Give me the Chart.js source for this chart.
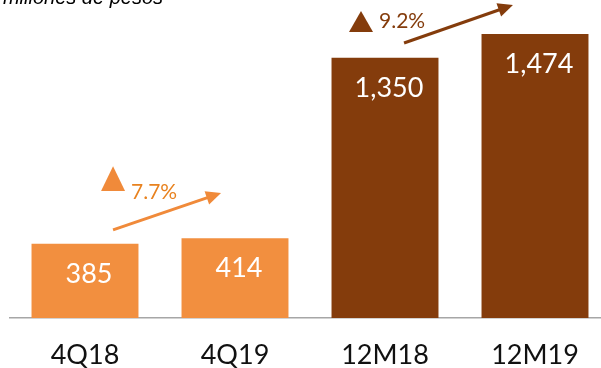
<!DOCTYPE html>
<html>
<head>
<meta charset="utf-8">
<script src="https://cdn.jsdelivr.net/npm/chart.js@4.4.1/dist/chart.umd.min.js"></script>
<style>
    html, body { margin: 0; padding: 0; background: #fff; overflow: hidden; }
    #wrap { position: relative; width: 610px; height: 393px; }
</style>
</head>
<body>
<div id="wrap"><canvas id="ventasChart"></canvas></div>
<script>
// Ventas en millones de pesos
const periodos = ['4Q18', '4Q19', '12M18', '12M19'];
const ventas = [385, 414, 1350, 1474];
const etiquetasVentas = ['385', '414', '1,350', '1,474'];
const crecimientos = ['7.7%', '9.2%'];

const NARANJA = '#F28F3F';
const CAFE = '#843C0C';
const coloresBarras = [NARANJA, NARANJA, CAFE, CAFE];

// Flechas de crecimiento, en unidades de los ejes (indice de categoria, valor)
const anotaciones = [
    { texto: crecimientos[0], color: '#F08A3A', colorTexto: '#E8821F',
      desde: [0.187, 457], hasta: [0.907, 649],
      triangulo: [0.107, 0.267, 659, 788], textoEn: [0.307, 617] },
    { texto: crecimientos[1], color: CAFE, colorTexto: CAFE,
      desde: [2.127, 1427], hasta: [2.853, 1624],
      triangulo: [1.76, 1.92, 1484, 1593], textoEn: [1.96, 1505] }
];

const pluginTextos = {
    id: 'textos',
    afterDatasetsDraw(chart) {
        const ctx = chart.ctx;
        const x = chart.scales.x;
        const y = chart.scales.y;

        // valores dentro de las barras
        ctx.save();
        ctx.fillStyle = '#fff';
        ctx.font = '27px Lato';
        ctx.textAlign = 'center';
        ctx.textBaseline = 'middle';
        chart.getDatasetMeta(0).data.forEach((bar, i) => {
            ctx.fillText(etiquetasVentas[i], bar.x + 4, bar.y + 30);
        });
        ctx.restore();

        // flechas y porcentajes
        anotaciones.forEach(a => {
            const x1 = x.getPixelForValue(a.desde[0]);
            const y1 = y.getPixelForValue(a.desde[1]);
            const x2 = x.getPixelForValue(a.hasta[0]);
            const y2 = y.getPixelForValue(a.hasta[1]);
            const ang = Math.atan2(y2 - y1, x2 - x1);
            const largo = 15, ancho = 7;

            ctx.save();
            ctx.strokeStyle = a.color;
            ctx.fillStyle = a.color;
            ctx.lineWidth = 3;
            ctx.beginPath();
            ctx.moveTo(x1, y1);
            ctx.lineTo(x2 - Math.cos(ang) * largo * 0.8, y2 - Math.sin(ang) * largo * 0.8);
            ctx.stroke();

            ctx.beginPath();
            ctx.moveTo(x2, y2);
            ctx.lineTo(x2 - Math.cos(ang) * largo + Math.sin(ang) * ancho,
                       y2 - Math.sin(ang) * largo - Math.cos(ang) * ancho);
            ctx.lineTo(x2 - Math.cos(ang) * largo - Math.sin(ang) * ancho,
                       y2 - Math.sin(ang) * largo + Math.cos(ang) * ancho);
            ctx.closePath();
            ctx.fill();

            // triangulo
            const tl = x.getPixelForValue(a.triangulo[0]);
            const tr = x.getPixelForValue(a.triangulo[1]);
            const tb = y.getPixelForValue(a.triangulo[2]);
            const tt = y.getPixelForValue(a.triangulo[3]);
            ctx.beginPath();
            ctx.moveTo((tl + tr) / 2, tt);
            ctx.lineTo(tr, tb);
            ctx.lineTo(tl, tb);
            ctx.closePath();
            ctx.fill();

            ctx.fillStyle = a.colorTexto;
            ctx.font = '21px Lato';
            ctx.textAlign = 'left';
            ctx.textBaseline = 'alphabetic';
            ctx.fillText(a.texto, x.getPixelForValue(a.textoEn[0]), y.getPixelForValue(a.textoEn[1]));
            ctx.restore();
        });

        // subtitulo, cortado por el borde superior
        ctx.save();
        ctx.fillStyle = '#000';
        ctx.font = 'italic 20px "Liberation Sans"';
        ctx.textAlign = 'right';
        ctx.textBaseline = 'alphabetic';
        ctx.fillText('En millones de pesos', 163, 4);
        ctx.restore();
    }
};

new Chart(document.getElementById('ventasChart'), {
    type: 'bar',
    data: {
        labels: periodos,
        datasets: [{
            data: ventas,
            backgroundColor: coloresBarras,
            borderWidth: 0,
            categoryPercentage: 1,
            barPercentage: 0.713
        }]
    },
    options: {
        responsive: true,
        maintainAspectRatio: false,
        animation: false,
        layout: { padding: { left: 10, right: 0, top: 0, bottom: 0 } },
        plugins: {
            legend: { display: false },
            tooltip: { enabled: false }
        },
        scales: {
            x: {
                grid: { display: false, drawTicks: false },
                border: { display: true, color: '#a6a6a6', width: 1.5 },
                ticks: {
                    color: '#111',
                    padding: 24,
                    font: { family: 'Lato', size: 27, lineHeight: 1 }
                }
            },
            y: {
                display: false,
                min: 0,
                max: 1650
            }
        }
    },
    plugins: [pluginTextos]
});
</script>
</body>
</html>
